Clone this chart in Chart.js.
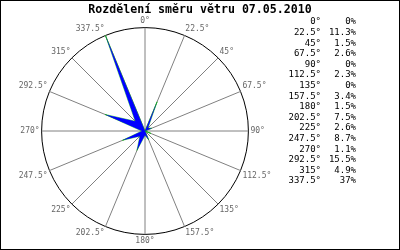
<!DOCTYPE html>
<html>
<head>
<meta charset="utf-8">
<script src="https://cdn.jsdelivr.net/npm/chart.js@4/dist/chart.umd.min.js"></script>
<style>
  html, body { margin: 0; padding: 0; background: #fff; }
  #wrap { width: 400px; height: 250px; position: relative; }
</style>
</head>
<body>
<div id="wrap"><canvas id="windRose"></canvas></div>
<script>
// smery (stupne) a podil v procentech
var directions = ['0°', '22.5°', '45°', '67.5°', '90°', '112.5°', '135°', '157.5°',
                  '180°', '202.5°', '225°', '247.5°', '270°', '292.5°', '315°', '337.5°'];
var shares = [0, 11.3, 1.5, 2.6, 0, 2.3, 0, 3.4, 1.5, 7.5, 2.6, 8.7, 1.1, 15.5, 4.9, 37];
var titleText = 'Rozdělení směru větru 07.05.2010';

var maxShare = Math.max.apply(null, shares);

// titulek, tabulka vpravo a ramecek
var roseExtras = {
  id: 'roseExtras',
  afterDraw: function(chart) {
    var ctx = chart.ctx;
    ctx.save();
    ctx.fillStyle = '#000';
    ctx.textBaseline = 'middle';

    ctx.font = 'bold 11.6px "DejaVu Sans Mono"';
    ctx.textAlign = 'center';
    ctx.fillText(titleText, 200, 10);

    ctx.font = '9px "DejaVu Sans Mono"';
    for (var i = 0; i < directions.length; i++) {
      var y = 22 + i * 10.6;
      ctx.textAlign = 'right';
      ctx.fillText(directions[i], 321, y);
      ctx.fillText(shares[i] + '%', 356, y);
    }

    ctx.strokeStyle = '#000';
    ctx.lineWidth = 1;
    ctx.strokeRect(0.5, 0.5, 399, 249);
    ctx.restore();
  }
};

new Chart(document.getElementById('windRose'), {
  type: 'radar',
  data: {
    labels: directions,
    datasets: [{
      data: shares,
      backgroundColor: '#0000ff',
      borderColor: '#0000ff',
      borderWidth: 0,
      fill: true,
      pointRadius: 0,
      order: 1
    }, {
      data: shares,
      borderColor: '#00c000',
      borderWidth: 0.6,
      fill: false,
      pointRadius: 0,
      order: 2
    }]
  },
  options: {
    responsive: true,
    maintainAspectRatio: false,
    animation: false,
    layout: {
      padding: { top: 16, right: 110, left: 0, bottom: 3 }
    },
    plugins: {
      legend: { display: false },
      tooltip: { enabled: false }
    },
    scales: {
      r: {
        min: 0,
        max: maxShare,
        ticks: { display: false, stepSize: maxShare },
        grid: { circular: true, color: '#000', lineWidth: 1 },
        angleLines: { color: '#808080', lineWidth: 1 },
        pointLabels: {
          color: '#666',
          padding: 2,
          font: { family: 'DejaVu Sans Mono', size: 8 }
        }
      }
    }
  },
  plugins: [roseExtras]
});
</script>
</body>
</html>
